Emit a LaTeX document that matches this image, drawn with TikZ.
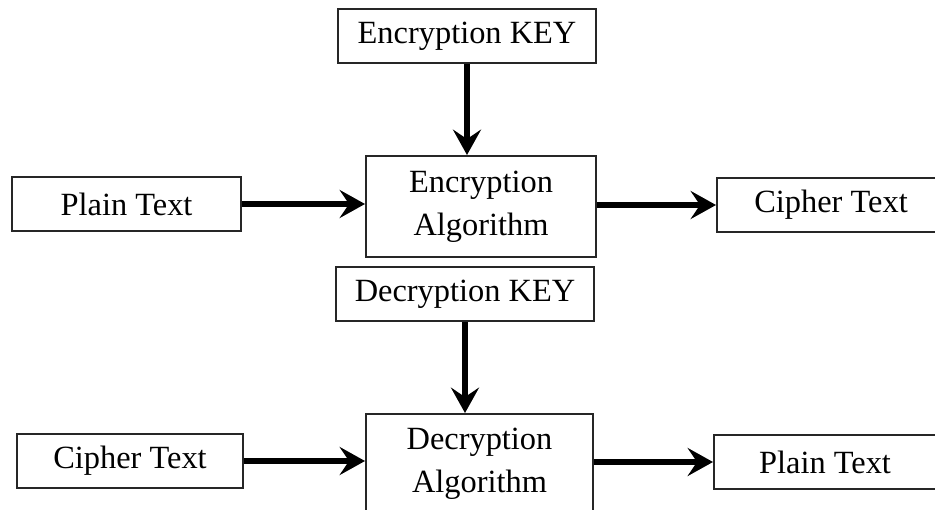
\documentclass[tikz,border=0pt]{standalone}
\usepackage{fontspec}
\setmainfont{Liberation Serif}
\usetikzlibrary{arrows.meta}
\begin{document}
\begin{tikzpicture}[x=0.75pt,y=-0.75pt,
  box/.style={draw=black!85, line width=1.5pt, fill=white, inner sep=0pt, align=center,
    font=\fontsize{24.3}{32}\selectfont},
  flow/.style={line width=4.5pt, -{Stealth[length=19pt,width=21pt,inset=7pt]}, shorten >=0pt}
]
\useasboundingbox (0,0) rectangle (935,510);
\clip (0,0) rectangle (935,510);
% encryption
\node[box, minimum width=258*0.75pt, minimum height=54*0.75pt] (encKey) at (467,36) {Encryption KEY};
\node[box, minimum width=230*0.75pt, minimum height=101*0.75pt] (encAlg) at (481,206.5) {Encryption\\Algorithm};
\node[box, minimum width=229*0.75pt, minimum height=54*0.75pt] (plainA) at (126.5,204) {Plain Text};
\node[box, minimum width=228*0.75pt, minimum height=54*0.75pt] (cipherA) at (831,205) {Cipher Text};
% decryption
\node[box, minimum width=258*0.75pt, minimum height=54*0.75pt] (decKey) at (465,294) {Decryption KEY};
\node[box, minimum width=227*0.75pt, minimum height=100*0.75pt] (decAlg) at (479.5,464) {Decryption\\Algorithm};
\node[box, minimum width=226*0.75pt, minimum height=54*0.75pt] (cipherB) at (130,461) {Cipher Text};
\node[box, minimum width=222*0.75pt, minimum height=54*0.75pt] (plainB) at (825,462) {Plain Text};
% arrows
\draw[flow] (encKey.south) -- (encKey.south |- encAlg.north);
\draw[flow] (plainA.east) -- (encAlg.west |- plainA.east);
\draw[flow] (encAlg.east |- cipherA.west) -- (cipherA.west);
\draw[flow] (decKey.south) -- (decKey.south |- decAlg.north);
\draw[flow] (cipherB.east) -- (decAlg.west |- cipherB.east);
\draw[flow] (decAlg.east |- plainB.west) -- (plainB.west);
\end{tikzpicture}
\end{document}
